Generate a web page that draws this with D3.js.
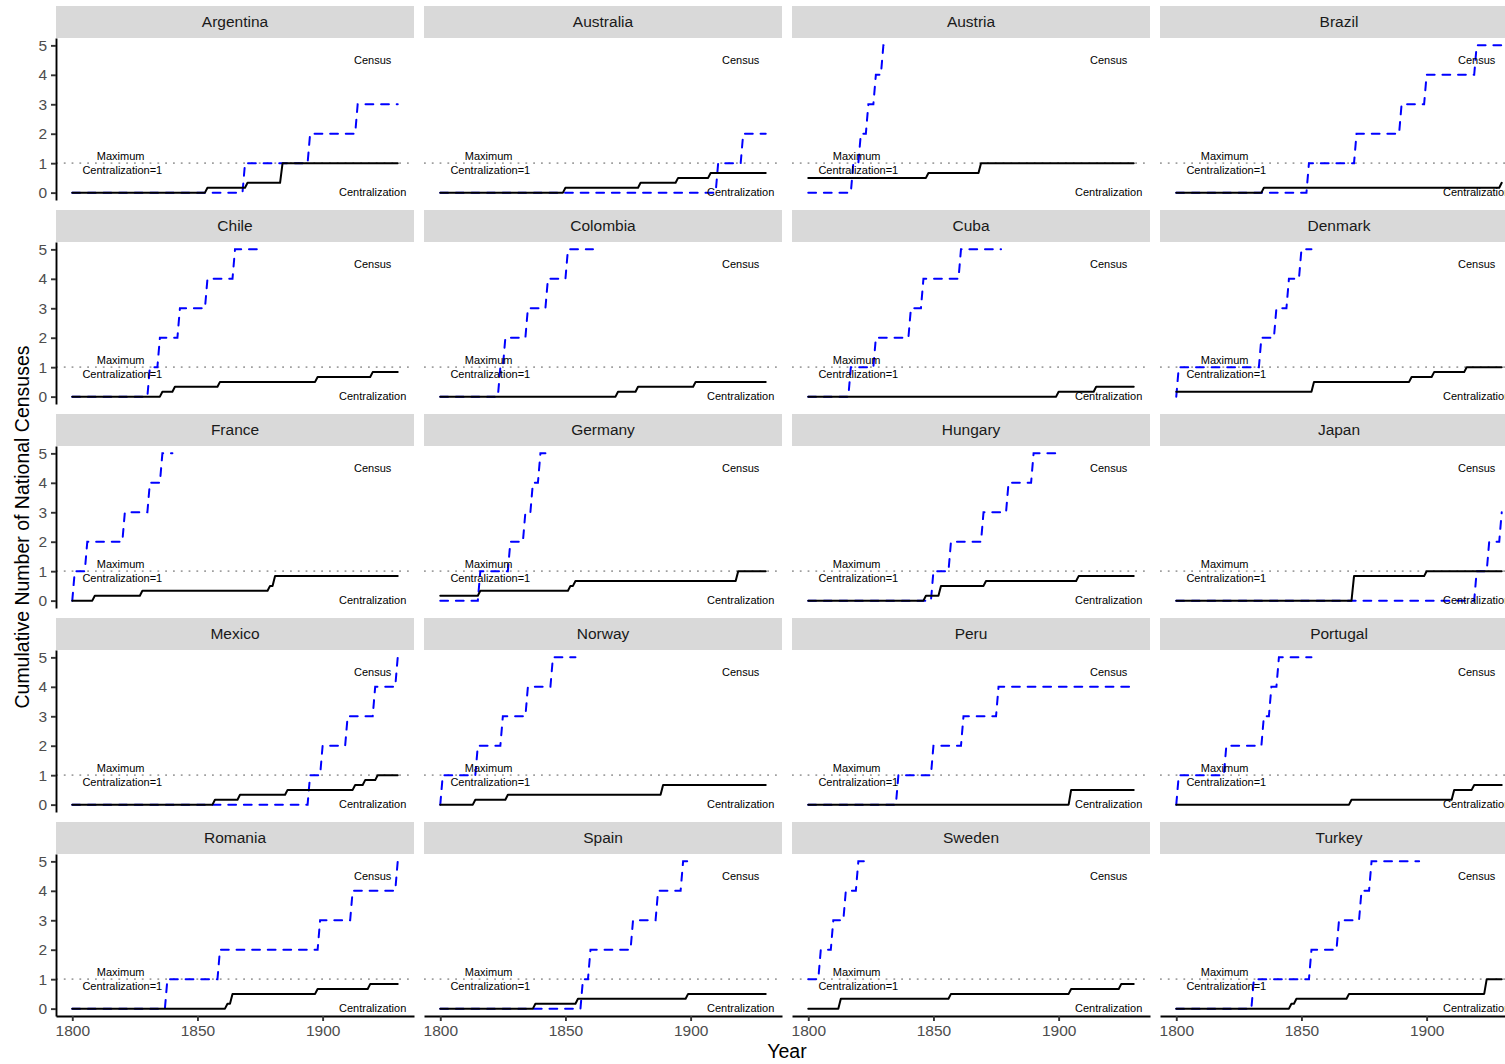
<!DOCTYPE html>
<html>
<head>
<meta charset="utf-8">
<script src="https://cdn.jsdelivr.net/npm/d3@7"></script>
<style>
  body { margin: 0; background: #fff; }
  text { font-family: "Liberation Sans", Arial, sans-serif; }
</style>
</head>
<body>
<div id="chart"></div>
<script>
// countries in facet order
var countries = ["Argentina", "Australia", "Austria", "Brazil",
                 "Chile", "Colombia", "Cuba", "Denmark",
                 "France", "Germany", "Hungary", "Japan",
                 "Mexico", "Norway", "Peru", "Portugal",
                 "Romania", "Spain", "Sweden", "Turkey"];

// cumulative census count: [year, value] change points, last one = end of series
var censusSteps = [
    [[1800,0],[1869,1],[1895,2],[1914,3],[1930,3]],
    [[1800,0],[1911,1],[1921,2],[1930,2]],
    [[1800,0],[1818,1],[1821,2],[1824,3],[1827,4],[1830,5],[1832,5]],
    [[1800,0],[1853,1],[1872,2],[1890,3],[1900,4],[1920,5],[1930,5]],
    [[1800,0],[1831,1],[1835,2],[1843,3],[1854,4],[1865,5],[1874,5]],
    [[1800,0],[1824,1],[1826,2],[1835,3],[1843,4],[1851,5],[1861,5]],
    [[1800,0],[1817,1],[1827,2],[1841,3],[1846,4],[1861,5],[1877,5]],
    [[1800,0],[1801,1],[1834,2],[1840,3],[1845,4],[1850,5],[1854,5]],
    [[1800,0],[1801,1],[1806,2],[1821,3],[1831,4],[1836,5],[1840,5]],
    [[1800,0],[1816,1],[1828,2],[1834,3],[1837,4],[1840,5],[1842,5]],
    [[1800,0],[1850,1],[1857,2],[1870,3],[1880,4],[1890,5],[1899,5]],
    [[1800,0],[1920,1],[1925,2],[1930,3]],
    [[1800,0],[1895,1],[1900,2],[1910,3],[1921,4],[1930,5]],
    [[1800,0],[1801,1],[1815,2],[1825,3],[1835,4],[1845,5],[1854,5]],
    [[1800,0],[1836,1],[1850,2],[1862,3],[1876,4],[1930,4]],
    [[1800,0],[1801,1],[1820,2],[1835,3],[1838,4],[1841,5],[1854,5]],
    [[1800,0],[1838,1],[1859,2],[1899,3],[1912,4],[1930,5]],
    [[1800,0],[1857,1],[1860,2],[1877,3],[1887,4],[1897,5],[1899,5]],
    [[1800,1],[1805,2],[1810,3],[1815,4],[1820,5],[1824,5]],
    [[1800,0],[1831,1],[1854,2],[1865,3],[1874,4],[1878,5],[1897,5]]
];

// centralization index: [year, value] change points
var centralSteps = [
    [[1800,0],[1854,0.167],[1870,0.333],[1884,1],[1930,1]],
    [[1800,0],[1850,0.167],[1880,0.333],[1895,0.5],[1908,0.667],[1930,0.667]],
    [[1800,0.5],[1848,0.667],[1869,1],[1930,1]],
    [[1800,0],[1835,0.167],[1930,0.333]],
    [[1800,0],[1836,0.167],[1841,0.333],[1859,0.5],[1898,0.667],[1920,0.833],[1930,0.833]],
    [[1800,0],[1871,0.167],[1879,0.333],[1902,0.5],[1930,0.5]],
    [[1800,0],[1900,0.167],[1915,0.333],[1930,0.333]],
    [[1800,0.167],[1855,0.5],[1894,0.667],[1903,0.833],[1916,1],[1930,1]],
    [[1800,0],[1809,0.167],[1828,0.333],[1879,0.5],[1881,0.833],[1930,0.833]],
    [[1800,0.167],[1816,0.333],[1852,0.5],[1854,0.667],[1919,1],[1930,1]],
    [[1800,0],[1847,0.167],[1853,0.5],[1871,0.667],[1908,0.833],[1930,0.833]],
    [[1800,0],[1871,0.833],[1900,1],[1930,1]],
    [[1800,0],[1857,0.167],[1867,0.333],[1886,0.5],[1913,0.667],[1917,0.833],[1922,1],[1930,1]],
    [[1800,0],[1814,0.167],[1827,0.333],[1889,0.667],[1930,0.667]],
    [[1800,0],[1905,0.5],[1930,0.5]],
    [[1800,0],[1870,0.167],[1911,0.5],[1919,0.667],[1930,0.667]],
    [[1800,0],[1862,0.167],[1864,0.5],[1898,0.667],[1919,0.833],[1930,0.833]],
    [[1800,0],[1838,0.167],[1855,0.333],[1899,0.5],[1930,0.5]],
    [[1800,0],[1813,0.333],[1857,0.5],[1905,0.667],[1925,0.833],[1930,0.833]],
    [[1800,0],[1846,0.167],[1848,0.333],[1869,0.5],[1924,1],[1930,1]]
];

var xTicks = [1800, 1850, 1900];
var yTicks = [0, 1, 2, 3, 4, 5];

var width = 1505, height = 1064;
var margin = {left: 56, top: 6};
var panelW = 358, panelH = 162, stripH = 32, gap = 10;
var nCol = 4;

var svg = d3.select("#chart").append("svg").attr("width", width).attr("height", height);

var xScale = d3.scaleLinear().domain([1793.5, 1936.5]).range([0, panelW]);
var yScale = d3.scaleLinear().domain([-0.25, 5.25]).range([panelH, 0]);

// turn change points into a line that moves up over one year
function stepPoints(steps) {
    var pts = [steps[0]];
    for (var i = 1; i < steps.length; i++) {
        var prev = steps[i - 1], cur = steps[i];
        if (cur[1] !== prev[1] && cur[0] - 1 > prev[0]) pts.push([cur[0] - 1, prev[1]]);
        pts.push(cur);
    }
    return pts;
}

var lineFunc = d3.line()
    .x(function(d) { return xScale(d[0]); })
    .y(function(d) { return yScale(d[1]); });

var nRow = Math.ceil(countries.length / nCol);

countries.forEach(function(name, k) {
    var col = k % nCol, row = Math.floor(k / nCol);
    var px = margin.left + col * (panelW + gap);
    var py = margin.top + stripH + row * (panelH + stripH + gap);
    var g = svg.append("g").attr("transform", "translate(" + px + "," + py + ")");

    // strip
    g.append("rect")
        .attr("x", 0).attr("y", -stripH)
        .attr("width", panelW).attr("height", stripH)
        .attr("fill", "#D9D9D9");
    g.append("text")
        .attr("x", panelW / 2).attr("y", -stripH / 2)
        .attr("dy", "0.35em")
        .attr("text-anchor", "middle")
        .attr("font-size", "15.5px")
        .attr("fill", "#1A1A1A")
        .text(name);

    // maximum line
    g.append("line")
        .attr("x1", 0).attr("x2", panelW)
        .attr("y1", yScale(1)).attr("y2", yScale(1))
        .attr("stroke", "#A0A0A0")
        .attr("stroke-width", 1.8)
        .attr("stroke-dasharray", "1.8,6");

    g.append("path")
        .attr("d", lineFunc(stepPoints(censusSteps[k])))
        .attr("fill", "none")
        .attr("stroke", "blue")
        .attr("stroke-width", 2)
        .attr("stroke-linecap", "round")
        .attr("stroke-dasharray", "7.8,7.8");

    g.append("path")
        .attr("d", lineFunc(stepPoints(centralSteps[k])))
        .attr("fill", "none")
        .attr("stroke", "black")
        .attr("stroke-width", 2)
        .attr("stroke-linejoin", "round")
        .attr("stroke-linecap", "round");

    // labels
    var lab = g.append("g").attr("font-size", "11px").attr("fill", "black").attr("text-anchor", "middle");
    lab.append("text").attr("x", xScale(1920)).attr("y", yScale(4.5)).attr("dy", "0.35em").text("Census");
    lab.append("text").attr("x", xScale(1920)).attr("y", yScale(0)).attr("dy", "0.35em").text("Centralization");
    lab.append("text").attr("x", xScale(1819.3)).attr("y", yScale(1) - 7).attr("dy", "0.35em").text("Maximum");
    lab.append("text").attr("x", xScale(1820)).attr("y", yScale(1) + 7).attr("dy", "0.35em").text("Centralization=1");

    if (col === 0) {
        var ay = g.append("g")
            .call(d3.axisLeft(yScale).tickValues(yTicks).tickFormat(d3.format("d")).tickSize(5).tickSizeOuter(0).tickPadding(4));
        ay.select(".domain").attr("stroke", "black").attr("stroke-width", 1.9);
        ay.selectAll(".tick line").attr("stroke", "#333333").attr("stroke-width", 1.9);
        ay.selectAll(".tick text").attr("fill", "#4D4D4D").attr("font-size", "15.5px")
            .attr("font-family", "Liberation Sans, Arial, sans-serif");
    }
    if (row === nRow - 1) {
        var ax = g.append("g")
            .attr("transform", "translate(0," + panelH + ")")
            .call(d3.axisBottom(xScale).tickValues(xTicks).tickFormat(d3.format("d")).tickSize(5).tickSizeOuter(0).tickPadding(4));
        ax.select(".domain").attr("stroke", "black").attr("stroke-width", 1.9);
        ax.selectAll(".tick line").attr("stroke", "#333333").attr("stroke-width", 1.9);
        ax.selectAll(".tick text").attr("fill", "#4D4D4D").attr("font-size", "15.5px")
            .attr("font-family", "Liberation Sans, Arial, sans-serif");
    }
});

// axis titles
var plotRight = margin.left + nCol * panelW + (nCol - 1) * gap;
var plotBottom = margin.top + nRow * (panelH + stripH) + (nRow - 1) * gap;

svg.append("text")
    .attr("x", (margin.left + plotRight) / 2)
    .attr("y", 1058)
    .attr("text-anchor", "middle")
    .attr("font-size", "19.5px")
    .attr("fill", "black")
    .text("Year");

svg.append("text")
    .attr("transform", "translate(29," + ((margin.top + stripH + plotBottom) / 2) + ") rotate(-90)")
    .attr("text-anchor", "middle")
    .attr("font-size", "19.5px")
    .attr("fill", "black")
    .text("Cumulative Number of National Censuses");
</script>
</body>
</html>
